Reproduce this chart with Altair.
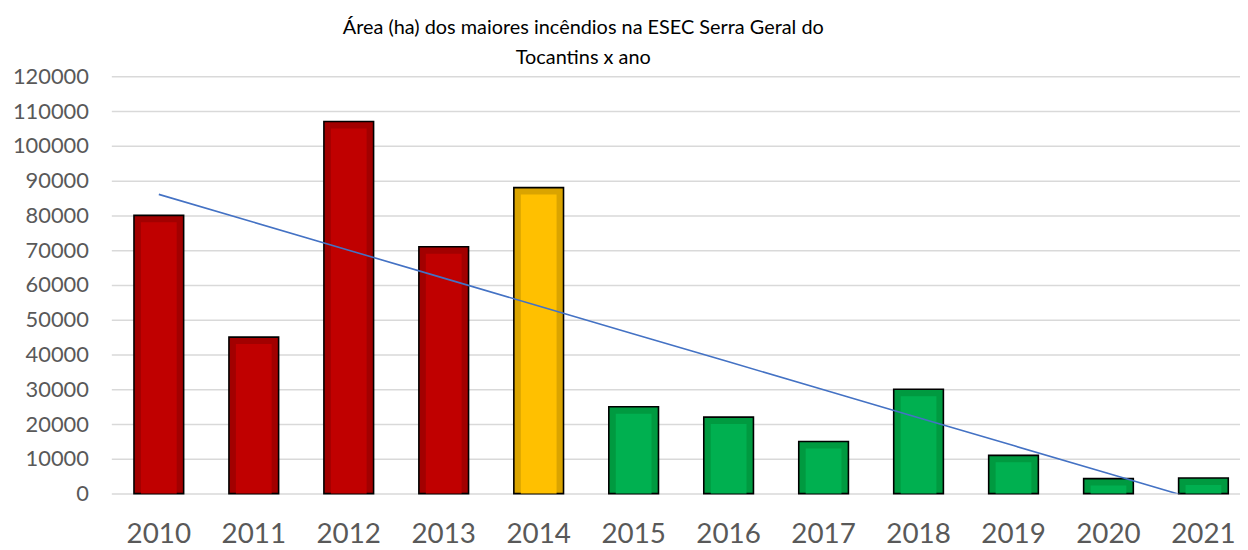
import altair as alt
import pandas as pd
import numpy as np

years = ["2010", "2011", "2012", "2013", "2014", "2015",
         "2016", "2017", "2018", "2019", "2020", "2021"]
area = [80000, 45000, 107000, 71000, 88000, 25000,
        22000, 15000, 30000, 11000, 4300, 4500]
phase = ["red", "red", "red", "red", "yellow", "green",
         "green", "green", "green", "green", "green", "green"]
title_lines = ["Área (ha) dos maiores incêndios na ESEC Serra Geral do",
               "Tocantins x ano"]
y_ticks = [0, 10000, 20000, 30000, 40000, 50000, 60000,
           70000, 80000, 90000, 100000, 110000, 120000]

df = pd.DataFrame({"ano": years, "area": area, "fase": phase})
idx = np.arange(len(area))
slope, intercept = np.polyfit(idx, np.array(area, dtype=float), 1)
df["tendencia"] = intercept + slope * idx

FONT = "Lato"
GREY = "#595959"

x_enc = alt.X(
    "ano:N", sort=years,
    scale=alt.Scale(paddingInner=0.477, paddingOuter=0.2385, range=[0, 1147]),
    axis=alt.Axis(title=None, labelAngle=0, labelFont=FONT, labelFontSize=28,
                  labelColor=GREY, ticks=False, domain=False, grid=False,
                  labelBaseline="alphabetic", labelPadding=49),
)

y_axis = alt.Axis(title=None, values=y_ticks, format="d", labelFont=FONT,
                  labelFontSize=22, labelColor=GREY, ticks=False, domain=False,
                  gridColor="#D9D9D9", gridWidth=1.5, labelPadding=23)
y_scale = alt.Scale(domain=[0, 120000], nice=False)

base = alt.Chart(df)

outer = base.mark_bar(stroke="black", strokeWidth=1.6).encode(
    x=x_enc,
    y=alt.Y("area:Q", scale=y_scale, axis=y_axis),
    color=alt.Color("fase:N", legend=None,
                    scale=alt.Scale(domain=["red", "yellow", "green"],
                                    range=["#A20000", "#DAA400", "#009A40"])),
)

inner = base.mark_bar(size=36, yOffset=7, clip=True).encode(
    x=x_enc,
    y=alt.Y("area:Q", scale=y_scale, axis=y_axis),
    color=alt.Color("fase:N", legend=None,
                    scale=alt.Scale(domain=["red", "yellow", "green"],
                                    range=["#C00000", "#FFC000", "#00B050"])),
)

trend = base.mark_line(color="#4472C4", strokeWidth=1.6, clip=True).encode(
    x=x_enc,
    y=alt.Y("tendencia:Q", scale=y_scale, axis=y_axis),
)

chart = alt.layer(outer, inner, trend).resolve_scale(color="independent").properties(
    width=1136,
    height=420,
    autosize="none",
    padding={"left": 104, "top": 67, "right": 0, "bottom": 55},
    title=alt.TitleParams(text=title_lines, font=FONT, fontSize=20,
                          fontWeight="normal", color="black", anchor="middle",
                          dx=-93, offset=-3, lineHeight=31),
).configure_view(stroke=None)

chart.save("out.html", embed_options={"renderer": "svg", "actions": False})
